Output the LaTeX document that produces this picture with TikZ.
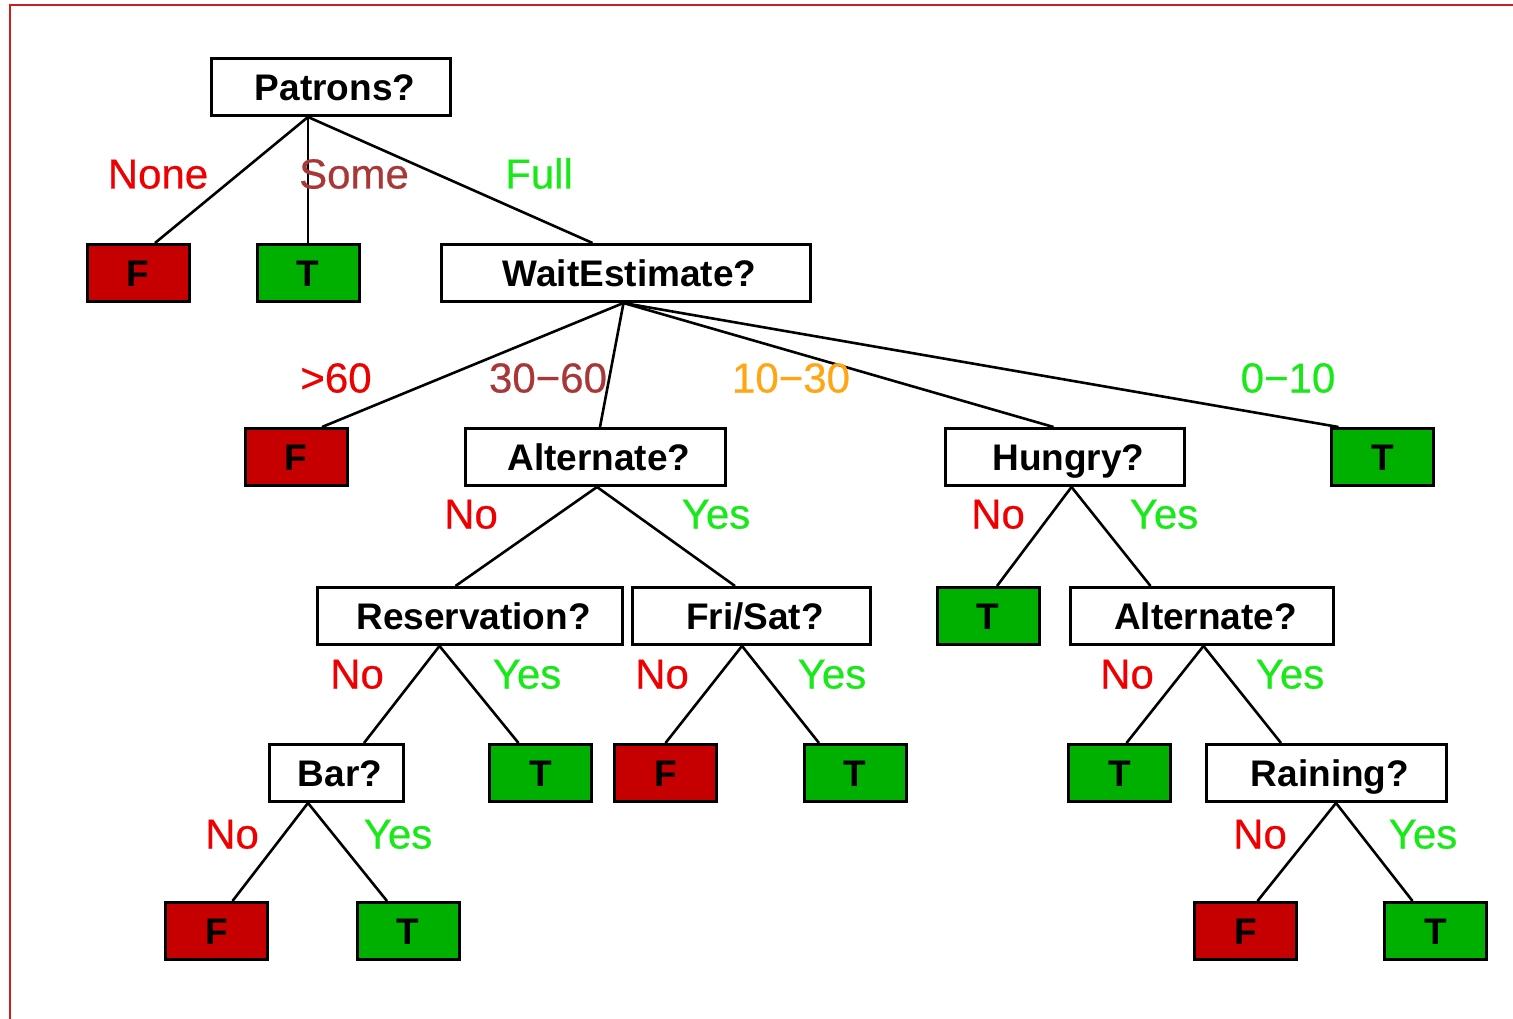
\documentclass[tikz,border=0pt]{standalone}
\usepackage{fontspec}
\setmainfont{Liberation Sans}
\newfontfamily\lblfont[FakeBold=0.5]{Liberation Sans}
\usepackage{xcolor}
\usepackage{tikz}
\usetikzlibrary{positioning}

\definecolor{leafred}{RGB}{198,0,0}
\definecolor{leafgreen}{RGB}{0,176,0}
\definecolor{nored}{RGB}{238,0,0}
\definecolor{yesgreen}{RGB}{25,232,25}
\definecolor{somebrown}{RGB}{168,55,55}
\definecolor{midorange}{RGB}{255,166,20}
\definecolor{framered}{RGB}{208,30,30}

\begin{document}
\begin{tikzpicture}[x=1pt, y=-1pt,
    test/.style={draw, line width=3pt, fill=white, inner sep=0pt, minimum height=57pt,
        text height=27pt, text depth=0pt, font=\fontsize{37}{40}\selectfont\bfseries},
    leaff/.style={test, fill=leafred, minimum width=102pt},
    leaft/.style={test, fill=leafgreen, minimum width=102pt},
    lbl/.style={inner sep=0pt, text height=31pt, text depth=0pt, font=\lblfont\fontsize{42}{46}\selectfont},
    edge/.style={line width=2.6pt}]
    \useasboundingbox (0,0) rectangle (1513,1019);
    % Frame
    \draw[framered, line width=2.5pt] (10,1019) -- (10,5) -- (1513,5);

    % Nodes
    \node[test, minimum width=239pt] (patrons) at (331,87) {\hspace{8pt}Patrons?};
    \node[leaff] (fnone) at (138,273) {F};
    \node[leaft] (tsome) at (308,273) {T};
    \node[test, minimum width=369pt] (wait) at (625.5,273) {\hspace{8pt}WaitEstimate?};

    \node[leaff] (fover) at (296,457) {F};
    \node[test, minimum width=260pt] (alt) at (595,457) {\hspace{8pt}Alternate?};
    \node[test, minimum width=239pt] (hungry) at (1064.5,457) {\hspace{8pt}Hungry?};
    \node[leaft] (tshort) at (1382.5,457) {T};

    \node[test, minimum width=305pt] (reserv) at (469.5,616) {\hspace{8pt}Reservation?};
    \node[test, minimum width=238pt] (frisat) at (751,616) {\hspace{8pt}Fri/Sat?};
    \node[leaft] (tnothungry) at (988,616) {T};
    \node[test, minimum width=263pt] (alttwo) at (1201.5,616) {\hspace{8pt}Alternate?};

    \node[test, minimum width=134pt] (bar) at (336,773) {\hspace{8pt}Bar?};
    \node[leaft] (treserv) at (540.5,773) {T};
    \node[leaff] (fnofri) at (665.5,773) {F};
    \node[leaft] (tfri) at (855,773) {T};
    \node[leaft] (tnoalt) at (1119.5,773) {T};
    \node[test, minimum width=240pt] (rain) at (1326,773) {\hspace{8pt}Raining?};

    \node[leaff] (fnobar) at (216.5,931) {F};
    \node[leaft] (tbar) at (408,931) {T};
    \node[leaff] (fnorain) at (1245.5,931) {F};
    \node[leaft] (train) at (1435.5,931) {T};

    % Arrows
    \draw[edge] ([xshift=-23pt]patrons.south) -- ([xshift=17pt]fnone.north);
    \draw[edge] ([xshift=-23pt]patrons.south) -- (tsome.north);
    \draw[edge] ([xshift=-23pt]patrons.south) -- ([xshift=-33pt]wait.north);

    \draw[edge] ([xshift=-2pt]wait.south) -- ([xshift=26pt]fover.north);
    \draw[edge] ([xshift=-2pt]wait.south) -- ([xshift=5pt]alt.north);
    \draw[edge] ([xshift=-2pt]wait.south) -- ([xshift=-11pt]hungry.north);
    \draw[edge] ([xshift=-2pt]wait.south) -- ([xshift=-44pt]tshort.north);

    \draw[edge] ([xshift=2pt]alt.south) -- ([xshift=-14pt]reserv.north);
    \draw[edge] ([xshift=2pt]alt.south) -- ([xshift=-16pt]frisat.north);
    \draw[edge] ([xshift=7pt]hungry.south) -- ([xshift=9pt]tnothungry.north);
    \draw[edge] ([xshift=7pt]hungry.south) -- ([xshift=-51pt]alttwo.north);

    \draw[edge] ([xshift=-30pt]reserv.south) -- ([xshift=28pt]bar.north);
    \draw[edge] ([xshift=-30pt]reserv.south) -- ([xshift=-22pt]treserv.north);
    \draw[edge] ([xshift=-9pt]frisat.south) -- (fnofri.north);
    \draw[edge] ([xshift=-9pt]frisat.south) -- ([xshift=-36pt]tfri.north);
    \draw[edge] ([xshift=2pt]alttwo.south) -- ([xshift=7pt]tnoalt.north);
    \draw[edge] ([xshift=2pt]alttwo.south) -- ([xshift=-45pt]rain.north);

    \draw[edge] ([xshift=-28pt]bar.south) -- ([xshift=16pt]fnobar.north);
    \draw[edge] ([xshift=-28pt]bar.south) -- ([xshift=-21pt]tbar.north);
    \draw[edge] ([xshift=10pt]rain.south) -- ([xshift=12pt]fnorain.north);
    \draw[edge] ([xshift=10pt]rain.south) -- ([xshift=-23pt]train.north);

    % Labels
    \node[lbl, text=nored] (lnone) at (158,173) {None};
    \node[lbl, text=somebrown] (lsome) at (354,173) {Some};
    \node[lbl, text=yesgreen] (lfull) at (539,173) {Full};
    \node[lbl, text=nored] (lover) at (336,377) {>60};
    \node[lbl, text=somebrown] (llong) at (548,377) {30−60};
    \node[lbl, text=midorange] (lmid) at (791,377) {10−30};
    \node[lbl, text=yesgreen] (lshort) at (1288,377) {0−10};
    \node[lbl, text=nored] (laltno) at (471,513) {No};
    \node[lbl, text=yesgreen] (laltyes) at (716,513) {Yes};
    \node[lbl, text=nored] (lhunno) at (998,513) {No};
    \node[lbl, text=yesgreen] (lhunyes) at (1164,513) {Yes};
    \node[lbl, text=nored] (lresno) at (357,673) {No};
    \node[lbl, text=yesgreen] (lresyes) at (527,673) {Yes};
    \node[lbl, text=nored] (lfrino) at (662,673) {No};
    \node[lbl, text=yesgreen] (lfriyes) at (832,673) {Yes};
    \node[lbl, text=nored] (lalttwono) at (1127,673) {No};
    \node[lbl, text=yesgreen] (lalttwoyes) at (1290,673) {Yes};
    \node[lbl, text=nored] (lbarno) at (232,833) {No};
    \node[lbl, text=yesgreen] (lbaryes) at (398,833) {Yes};
    \node[lbl, text=nored] (lrainno) at (1260,833) {No};
    \node[lbl, text=yesgreen] (lrainyes) at (1423,833) {Yes};
\end{tikzpicture}
\end{document}
